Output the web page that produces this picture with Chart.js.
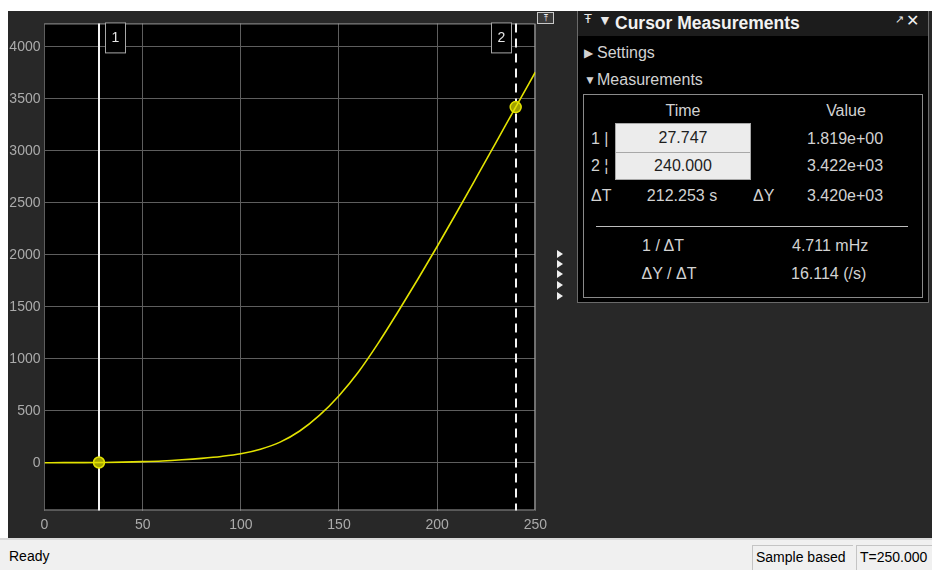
<!DOCTYPE html>
<html>
<head>
<meta charset="utf-8">
<script src="https://cdn.jsdelivr.net/npm/chart.js@4"></script>
<style>
  html, body { margin: 0; padding: 0; background: #fff; }
  body { width: 932px; height: 570px; position: relative; overflow: hidden;
         font-family: "Liberation Sans", Arial, sans-serif; }
  .abs { position: absolute; }
  .t { position: absolute; line-height: 20px; height: 20px; white-space: nowrap;
       font-size: 16px; color: #d2d2d2; }
  .c { transform: translateX(-50%); }
  .tri { position: absolute; width: 0; height: 0; border-top: 4px solid transparent;
         border-bottom: 4px solid transparent; border-left: 6px solid #f0f0f0; }
  .field { position: absolute; background: #ececec; border: 1px solid #a8a8a8; box-sizing: border-box;
           color: #1e1e1e; font-size: 16px; text-align: center; }
</style>
</head>
<body>
<div class="abs" style="left:8px;top:11px;width:924px;height:527px;background:#282828"></div>
<div class="abs" style="left:8px;top:11px;width:545px;height:527px">
  <canvas id="scope" width="545" height="527"></canvas>
</div>

<!-- small controls beside the plot -->
<div class="abs" style="left:537px;top:12px;width:15px;height:10px;border:1px solid #c8c8c8;background:#3a3a3a;color:#f4f4f4;font-size:9px;line-height:10px;text-align:center">&#x2912;</div>
<div class="tri" style="left:557px;top:250px"></div>
<div class="tri" style="left:557px;top:260px"></div>
<div class="tri" style="left:557px;top:270px"></div>
<div class="tri" style="left:557px;top:281px"></div>
<div class="tri" style="left:557px;top:292px"></div>

<!-- cursor measurements panel -->
<div class="abs" style="left:577px;top:11px;width:350px;height:291px;background:#000;border:1px solid #6a6a6a;border-top:none"></div>
<div class="abs" style="left:578px;top:11px;width:350px;height:25px;background:#1c1c1c"></div>
<div class="t" style="left:584px;top:9px;font-size:13px;color:#e8e8e8">&#x0166;</div>
<div class="t" style="left:598px;top:10px;font-size:14px;color:#e8e8e8">&#x25BC;</div>
<div class="t" style="left:615px;top:13px;font-size:17.5px;font-weight:bold;color:#f2f2f2">Cursor Measurements</div>
<div class="t" style="left:895px;top:9px;font-size:11px;color:#e8e8e8">&#x2197;</div>
<div class="t" style="left:906px;top:11px;font-size:16px;color:#f2f2f2">&#x2715;</div>

<div class="t" style="left:584px;top:43px;font-size:12px;color:#d2d2d2">&#x25B6;</div>
<div class="t" style="left:597px;top:43px">Settings</div>
<div class="t" style="left:584px;top:70px;font-size:12px;color:#d2d2d2">&#x25BC;</div>
<div class="t" style="left:597px;top:70px">Measurements</div>

<div class="abs" style="left:583px;top:94px;width:338px;height:202px;border:1px solid #8a8a8a"></div>
<div class="t c" style="left:683px;top:101px">Time</div>
<div class="t c" style="left:846px;top:101px">Value</div>

<div class="t" style="left:591px;top:129px">1 |</div>
<div class="field" style="left:615px;top:123px;width:136px;height:30px;line-height:28px">27.747</div>
<div class="t" style="left:807px;top:129px">1.819e+00</div>

<div class="t" style="left:591px;top:156px">2 &#x00A6;</div>
<div class="field" style="left:615px;top:152px;width:136px;height:28px;line-height:26px">240.000</div>
<div class="t" style="left:807px;top:156px">3.422e+03</div>

<div class="t" style="left:591px;top:186px">&#x0394;T</div>
<div class="t c" style="left:682px;top:186px">212.253 s</div>
<div class="t" style="left:753px;top:186px">&#x0394;Y</div>
<div class="t" style="left:807px;top:186px">3.420e+03</div>

<div class="abs" style="left:596px;top:226px;width:312px;height:1px;background:#bdbdbd"></div>
<div class="t c" style="left:663px;top:236px">1 / &#x0394;T</div>
<div class="t" style="left:792px;top:236px">4.711 mHz</div>
<div class="t c" style="left:669px;top:264px">&#x0394;Y / &#x0394;T</div>
<div class="t" style="left:791px;top:264px">16.114 (/s)</div>

<!-- status bar -->
<div class="abs" style="left:0;top:538px;width:932px;height:32px;background:#f0f0f0;border-top:2px solid #dadada;box-sizing:border-box"></div>
<div class="t" style="left:9px;top:546px;font-size:14px;color:#000">Ready</div>
<div class="abs" style="left:752px;top:545px;width:101px;height:25px;border-left:1px solid #c4c4c4;border-top:1px solid #c4c4c4;box-sizing:border-box"></div>
<div class="t" style="left:756px;top:547px;font-size:14px;color:#000">Sample based</div>
<div class="abs" style="left:856px;top:545px;width:76px;height:25px;border-left:1px solid #c4c4c4;border-top:1px solid #c4c4c4;box-sizing:border-box"></div>
<div class="t" style="left:860px;top:547px;font-size:14px;color:#000">T=250.000</div>

<script>
// signal samples (s, amplitude)
const times = [0, 10, 20, 30, 40, 50, 60, 70, 80, 90, 100, 110, 120, 130, 140,
               150, 160, 170, 180, 190, 200, 210, 220, 230, 240, 250];
const values = [0, 0.2, 0.8, 2.2, 5, 10, 17, 28, 42, 60, 86, 130, 198, 305, 455,
                645, 875, 1150, 1450, 1760, 2080, 2410, 2745, 3082, 3422, 3757];

// cursors
const cursorLabels = ["1", "2"];
const cursorTimes = [27.747, 240.0];
const cursorValues = [1.819, 3422];
const cursorDashed = [false, true];

// axis ticks
const xTicks = [0, 50, 100, 150, 200, 250];
const yTicks = [0, 500, 1000, 1500, 2000, 2500, 3000, 3500, 4000];

const scopePlugin = {
    id: "scopeDecor",
    beforeDraw(chart) {
        const { ctx, chartArea: a } = chart;
        ctx.save();
        ctx.fillStyle = "#000";
        ctx.fillRect(a.left, a.top, a.right - a.left, a.bottom - a.top);
        ctx.restore();
    },
    beforeDatasetsDraw(chart) {
        const { ctx, chartArea: a, scales } = chart;
        ctx.save();
        // axes box (top, right, bottom)
        ctx.strokeStyle = "#a0a0a0";
        ctx.lineWidth = 1;
        ctx.beginPath();
        ctx.moveTo(a.left, a.top + 0.5);
        ctx.lineTo(a.right - 0.5, a.top + 0.5);
        ctx.lineTo(a.right - 0.5, a.bottom - 0.5);
        ctx.lineTo(a.left, a.bottom - 0.5);
        ctx.stroke();

        // cursor lines + labels
        cursorTimes.forEach((t, i) => {
            const x = Math.round(scales.x.getPixelForValue(t));
            ctx.strokeStyle = "#f4f4f4";
            ctx.lineWidth = 2;
            ctx.setLineDash(cursorDashed[i] ? [9, 6] : []);
            ctx.beginPath();
            ctx.moveTo(x, a.top);
            ctx.lineTo(x, a.bottom);
            ctx.stroke();
            ctx.setLineDash([]);

            const w = 20, h = 30;
            const bx = cursorDashed[i] ? x - 5 - w : x + 6;
            const by = a.top - 1;
            ctx.fillStyle = "#000";
            ctx.fillRect(bx, by, w, h);
            ctx.strokeStyle = "#a8a8a8";
            ctx.lineWidth = 1;
            ctx.strokeRect(bx + 0.5, by + 0.5, w, h);
            ctx.fillStyle = "#e6e6e6";
            ctx.font = "14px 'Liberation Sans', Arial, sans-serif";
            ctx.textAlign = "center";
            ctx.textBaseline = "middle";
            ctx.fillText(cursorLabels[i], bx + w / 2 + 0.5, by + h / 2 + 1);
        });
        ctx.restore();
    }
};

new Chart(document.getElementById("scope"), {
    type: "line",
    data: {
        datasets: [{
            data: times.map((t, i) => ({ x: t, y: values[i] })),
            borderColor: "#e2e200",
            borderWidth: 1.6,
            pointRadius: 0,
            cubicInterpolationMode: "monotone",
            fill: false
        }, {
            data: cursorTimes.map((t, i) => ({ x: t, y: cursorValues[i] })),
            showLine: false,
            pointRadius: 5.5,
            pointBackgroundColor: "#a2a200",
            pointBorderColor: "#e4e400",
            pointBorderWidth: 1.5
        }]
    },
    options: {
        responsive: false,
        animation: false,
        devicePixelRatio: 1,
        layout: { padding: { left: 0, right: 16, top: 9, bottom: 0 } },
        plugins: {
            legend: { display: false },
            tooltip: { enabled: false }
        },
        scales: {
            x: {
                type: "linear",
                min: 0,
                max: 250,
                afterBuildTicks: s => { s.ticks = xTicks.map(v => ({ value: v })); },
                afterFit: s => { s.height = 27.5; },
                grid: { color: "#5e5e5e", drawTicks: false },
                border: { display: false },
                ticks: {
                    color: "#ababab",
                    padding: 6,
                    maxRotation: 0,
                    callback: v => String(v),
                    font: { family: "'Liberation Sans', Arial, sans-serif", size: 14 }
                }
            },
            y: {
                type: "linear",
                min: -460,
                max: 4227,
                afterBuildTicks: s => { s.ticks = yTicks.map(v => ({ value: v })); },
                afterFit: s => { s.width = 36.5; },
                grid: { color: "#5e5e5e", drawTicks: false },
                border: { display: false },
                ticks: {
                    color: "#ababab",
                    padding: 4,
                    callback: v => String(v),
                    font: { family: "'Liberation Sans', Arial, sans-serif", size: 14 }
                }
            }
        }
    },
    plugins: [scopePlugin]
});
</script>
</body>
</html>
